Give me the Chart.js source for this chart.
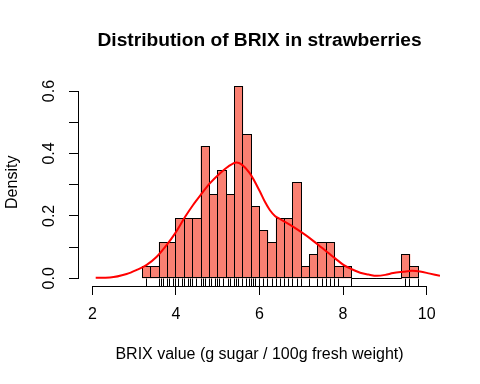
<!DOCTYPE html>
<html>
<head>
<meta charset="utf-8">
<script src="https://cdn.jsdelivr.net/npm/chart.js@4.4.1/dist/chart.umd.min.js"></script>
<style>
html, body { margin: 0; padding: 0; background: #fff; }
canvas { display: block; }
</style>
</head>
<body>
<canvas id="hist" width="480" height="384"></canvas>
<script>
// histogram breaks and counts per bin
var breaks = [3.2, 3.4, 3.6, 3.8, 4.0, 4.2, 4.4, 4.6, 4.8, 5.0, 5.2, 5.4, 5.6, 5.8, 6.0, 6.2, 6.4,
              6.6, 6.8, 7.0, 7.2, 7.4, 7.6, 7.8, 8.0, 8.2, 8.4, 8.6, 8.8, 9.0, 9.2, 9.4, 9.6, 9.8];
var counts = [1, 1, 3, 3, 5, 5, 5, 11, 7, 9, 7, 16, 12, 6, 4, 3, 5,
              5, 8, 1, 2, 3, 3, 1, 1, 0, 0, 0, 0, 0, 0, 2, 1];

// density curve
var densX = [2.08, 2.42, 2.82, 3.06, 3.30, 3.54, 3.78, 3.98, 4.22, 4.41, 4.62, 4.81, 5.05, 5.25,
             5.45, 5.57, 5.77, 6.01, 6.13, 6.25, 6.37, 6.49, 6.61, 6.81, 7.01, 7.21, 7.41, 7.61,
             7.81, 8.01, 8.21, 8.41, 8.61, 8.81, 9.01, 9.20, 9.44, 9.65, 9.84, 10.08, 10.32];
var densY = [0.002, 0.003, 0.014, 0.027, 0.043, 0.069, 0.107, 0.144, 0.197, 0.235, 0.272, 0.304, 0.336, 0.358,
             0.371, 0.365, 0.336, 0.278, 0.245, 0.218, 0.200, 0.190, 0.181, 0.165, 0.147, 0.128, 0.107, 0.085,
             0.064, 0.043, 0.029, 0.018, 0.012, 0.008, 0.011, 0.017, 0.021, 0.024, 0.022, 0.015, 0.008];

// rug marks (individual BRIX readings)
var rugValues = [3.3, 3.6, 3.65, 3.7, 3.8, 3.85, 3.95, 4.0, 4.05, 4.15, 4.2, 4.3, 4.35, 4.4, 4.5, 4.6,
                 4.65, 4.7, 4.8, 4.85, 4.95, 5.0, 5.05, 5.15, 5.25, 5.3, 5.4, 5.45, 5.5, 5.6, 5.7, 5.75,
                 5.8, 5.85, 5.9, 6.0, 6.1, 6.2, 6.3, 6.4, 6.5, 6.6, 6.7, 6.8, 6.9, 7.0, 7.2, 7.4, 7.5,
                 7.6, 7.7, 7.8, 7.9, 8.2, 9.5, 9.6, 9.8];

var xTicks = [2, 4, 6, 8, 10];
var yTicks = [0, 0.1, 0.2, 0.3, 0.4, 0.5, 0.6];
var yLabels = ['0.0', '', '0.2', '', '0.4', '', '0.6'];

var n = counts.reduce(function(a, b) { return a + b; }, 0);
var bars = counts.map(function(c, i) {
  var w = breaks[i + 1] - breaks[i];
  return { x: (breaks[i] + breaks[i + 1]) / 2, y: c / (n * w) };
});
var curve = densX.map(function(x, i) { return { x: x, y: densY[i] }; });

var FONT = "'Liberation Sans', Arial, sans-serif";

function align(v) { return Math.round(v - 0.5) + 0.5; }

// R-ish extras: bar outlines, rug and short axis lines
var rStyle = {
  id: 'rStyle',
  afterDatasetDraw: function(chart, args) {
    if (args.meta.type !== 'bar') return;
    var ctx = chart.ctx;
    ctx.save();
    ctx.strokeStyle = '#000';
    ctx.lineWidth = 1;
    args.meta.data.forEach(function(bar) {
      var p = bar.getProps(['x', 'y', 'base', 'width'], true);
      var l = align(p.x - p.width / 2), r = align(p.x + p.width / 2);
      var t = align(p.y), b = align(p.base);
      ctx.strokeRect(l, t, r - l, b - t);
    });
    ctx.restore();
  },
  afterDraw: function(chart) {
    var ctx = chart.ctx, xs = chart.scales.x, ys = chart.scales.y, area = chart.chartArea;
    var yb = Math.floor(area.bottom) + 0.5;
    var xl = Math.floor(area.left) - 0.5;
    ctx.save();
    ctx.strokeStyle = '#000';
    ctx.lineWidth = 1;
    ctx.beginPath();
    rugValues.forEach(function(v) {
      var px = align(xs.getPixelForValue(v));
      ctx.moveTo(px, yb);
      ctx.lineTo(px, yb - 8);
    });
    // axis lines only between first and last tick
    ctx.moveTo(align(xs.getPixelForValue(xTicks[0])), yb);
    ctx.lineTo(align(xs.getPixelForValue(xTicks[xTicks.length - 1])), yb);
    ctx.moveTo(xl, align(ys.getPixelForValue(yTicks[0])));
    ctx.lineTo(xl, align(ys.getPixelForValue(yTicks[yTicks.length - 1])));
    ctx.stroke();
    ctx.restore();
  }
};

new Chart(document.getElementById('hist'), {
  type: 'bar',
  data: {
    datasets: [{
      type: 'line',
      data: curve,
      borderColor: '#ff0000',
      borderWidth: 2,
      pointRadius: 0,
      cubicInterpolationMode: 'monotone',
      order: 0
    }, {
      type: 'bar',
      data: bars,
      backgroundColor: '#fa8072',
      borderWidth: 0,
      barPercentage: 1,
      categoryPercentage: 1,
      order: 1
    }]
  },
  options: {
    responsive: false,
    animation: false,
    devicePixelRatio: 1,
    layout: { padding: { left: 0, right: 40, top: 0, bottom: 0 } },
    plugins: {
      legend: { display: false },
      tooltip: { enabled: false },
      title: {
        display: true,
        fullSize: false,
        text: 'Distribution of BRIX in strawberries',
        color: '#000',
        font: { family: FONT, size: 19.2, weight: 'bold' },
        padding: { top: 29, bottom: 26.5 }
      }
    },
    scales: {
      x: {
        type: 'linear',
        min: 1.68,
        max: 10.32,
        offset: false,
        afterBuildTicks: function(s) { s.ticks = xTicks.map(function(v) { return { value: v }; }); },
        afterFit: function(s) { s.height = 98; },
        border: { display: false },
        grid: { drawOnChartArea: false, offset: false, tickLength: 9, color: '#000', lineWidth: 1 },
        ticks: { color: '#000', font: { family: FONT, size: 16 }, padding: 10, maxRotation: 0, autoSkip: false },
        title: {
          display: true,
          text: 'BRIX value (g sugar / 100g fresh weight)',
          color: '#000',
          font: { family: FONT, size: 16 },
          padding: { top: 0, bottom: 20 }
        }
      },
      y: {
        min: -0.0246,
        max: 0.64,
        afterBuildTicks: function(s) { s.ticks = yTicks.map(function(v) { return { value: v }; }); },
        afterFit: function(s) { s.width = 79; },
        border: { display: false },
        grid: { drawOnChartArea: false, tickLength: 10, color: '#000', lineWidth: 1 },
        ticks: {
          color: '#000',
          font: { family: FONT, size: 16 },
          minRotation: 90,
          maxRotation: 90,
          crossAlign: 'center',
          padding: 8,
          autoSkip: false,
          callback: function(v, i) { return yLabels[i]; }
        },
        title: {
          display: true,
          text: 'Density',
          color: '#000',
          font: { family: FONT, size: 16 },
          padding: { top: 3, bottom: 0 }
        }
      }
    }
  },
  plugins: [rStyle]
});
</script>
</body>
</html>
